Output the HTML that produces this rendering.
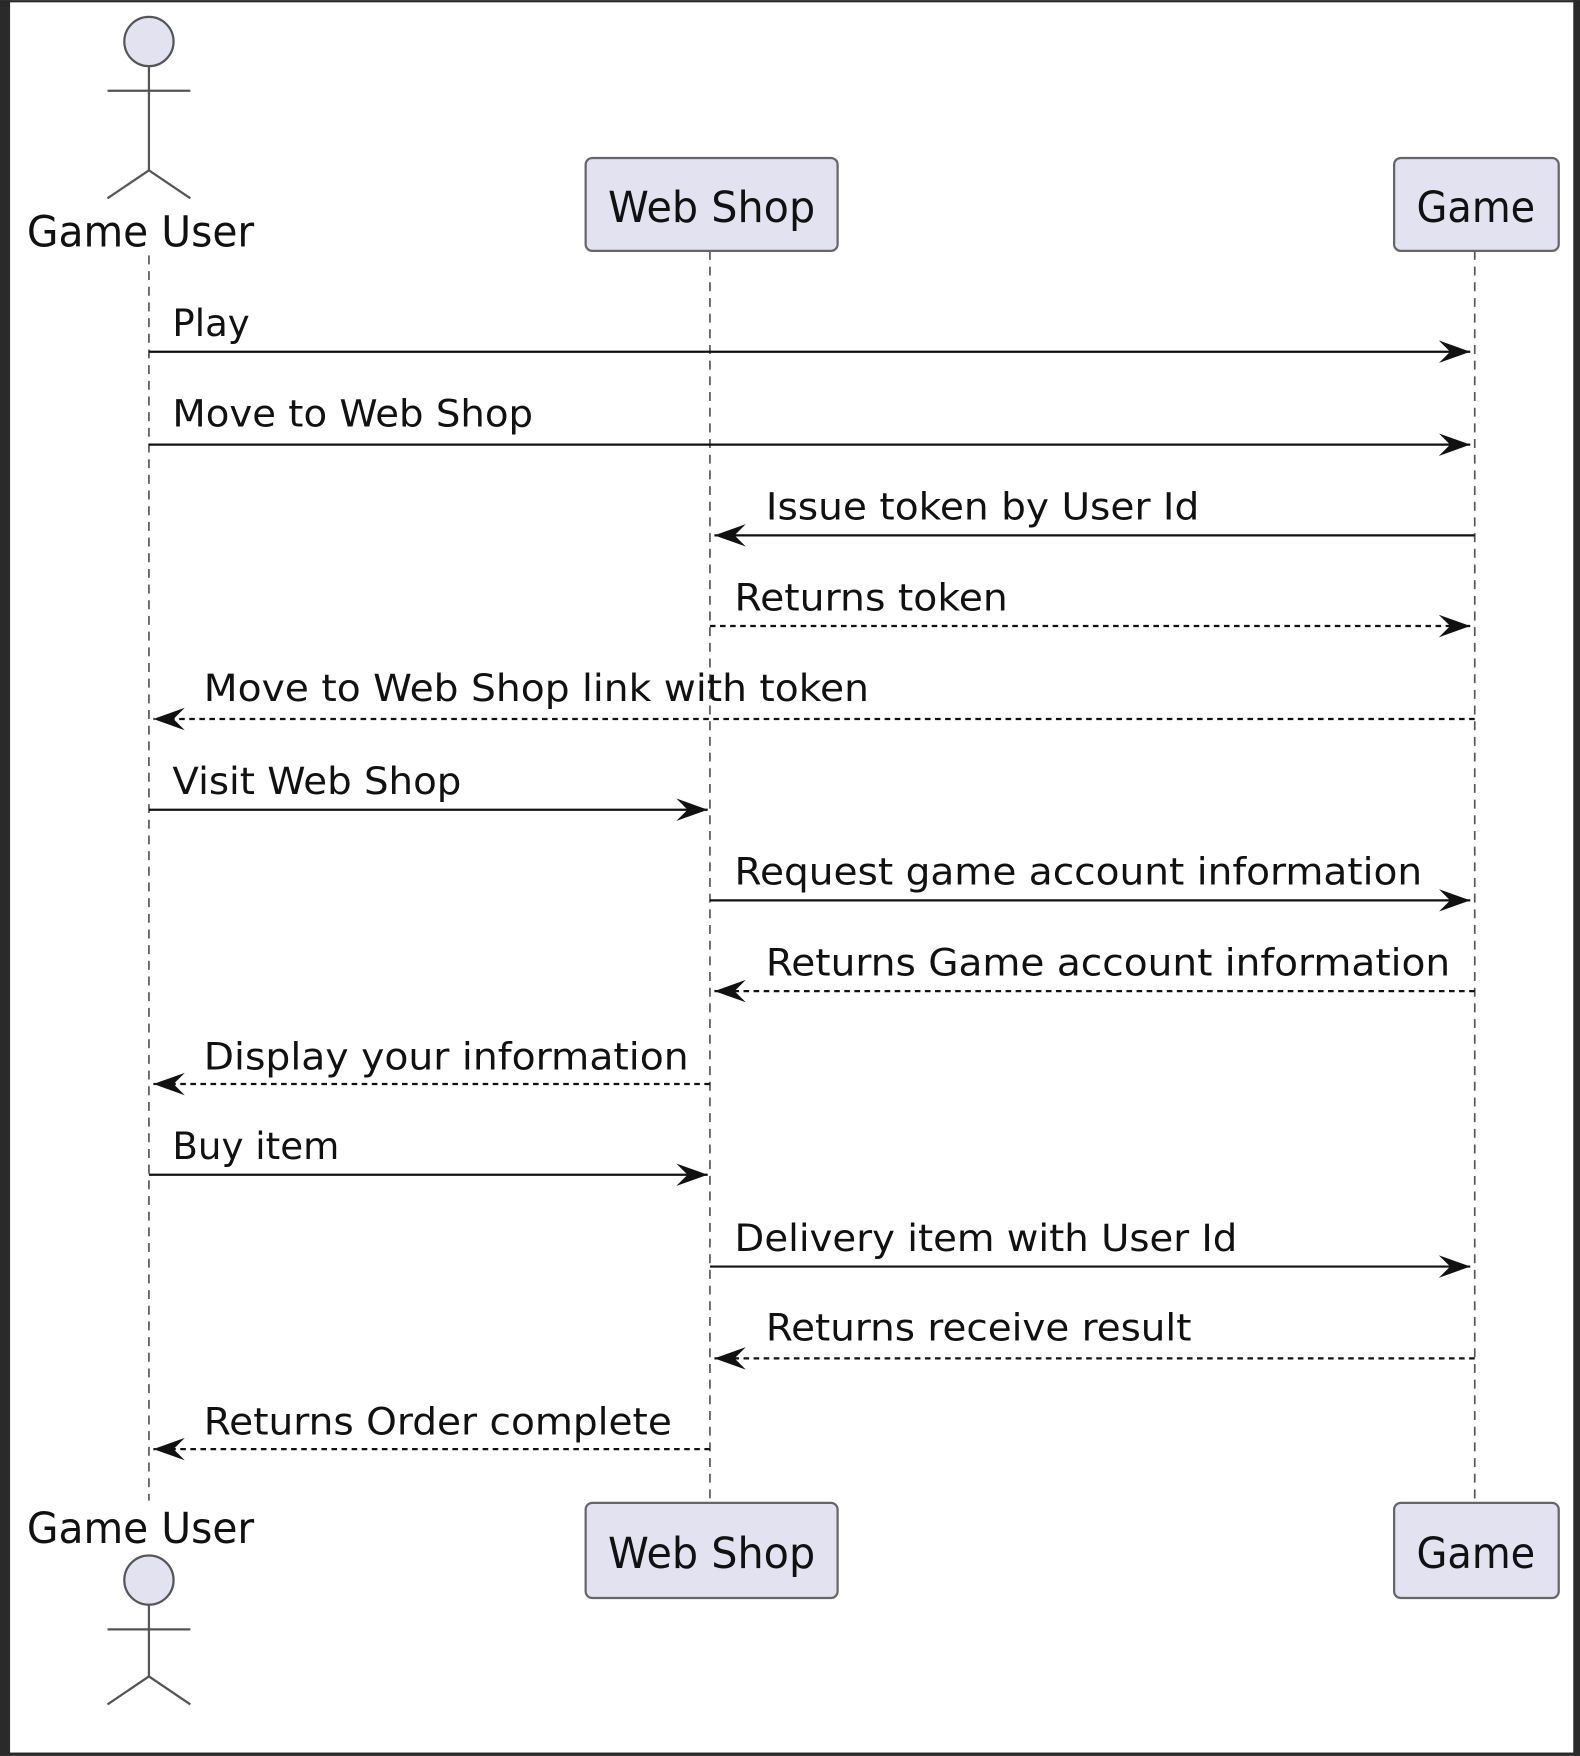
<!DOCTYPE html>
<html><head><meta charset="utf-8"><style>
html,body{margin:0;padding:0;background:#fff;}
svg{display:block;}
text{font-family:"DejaVu Sans","Liberation Sans",sans-serif;fill:#111;}
</style></head><body>
<svg width="1580" height="1756" viewBox="0 0 1411 1568" xmlns="http://www.w3.org/2000/svg">
<defs>
<marker id="a" markerWidth="30" markerHeight="22" refX="28" refY="11" orient="auto" markerUnits="userSpaceOnUse">
<polygon points="0,1 28,11 0,21 10,11" fill="#111"/>
</marker>
</defs>
<rect x="0" y="0" width="1411" height="1568" fill="#fff"/>
<rect x="0" y="0" width="9" height="1568" fill="#2a2a2a"/>
<rect x="1405" y="0" width="6" height="1568" fill="#2a2a2a"/>
<rect x="0" y="0" width="1411" height="2" fill="#2a2a2a"/>
<rect x="0" y="1565" width="1411" height="3" fill="#2a2a2a"/>

<g stroke="#555" stroke-width="1.5" stroke-dasharray="8,6" fill="none">
<line x1="133" y1="228" x2="133" y2="1340"/>
<line x1="634" y1="224" x2="634" y2="1340"/>
<line x1="1317" y1="224" x2="1317" y2="1340"/>
</g>

<!-- top actor -->
<g stroke="#555" stroke-width="2" fill="none">
<circle cx="133" cy="37" r="22" fill="#e2e2f0"/>
<line x1="133" y1="59" x2="133" y2="152"/>
<line x1="96" y1="81" x2="170" y2="81"/>
<polyline points="96,177 133,152 170,177"/>
<circle cx="133" cy="1411" r="22" fill="#e2e2f0"/>
<line x1="133" y1="1433" x2="133" y2="1497"/>
<line x1="96" y1="1455" x2="170" y2="1455"/>
<polyline points="96,1522 133,1497 170,1522"/>
</g>
<text x="24" y="220" font-size="38" textLength="203" lengthAdjust="spacingAndGlyphs">Game User</text>
<text x="24" y="1378" font-size="38" textLength="203" lengthAdjust="spacingAndGlyphs">Game User</text>

<g fill="#e2e2f0" stroke="#666" stroke-width="2">
<rect x="523" y="141" width="225" height="83" rx="6"/>
<rect x="1245" y="141" width="147" height="83" rx="6"/>
<rect x="523" y="1342" width="225" height="85" rx="6"/>
<rect x="1245" y="1342" width="147" height="85" rx="6"/>
</g>
<text x="543" y="198" font-size="38" textLength="185" lengthAdjust="spacingAndGlyphs">Web Shop</text>
<text x="1265" y="198" font-size="38" textLength="106" lengthAdjust="spacingAndGlyphs">Game</text>
<text x="543" y="1400" font-size="38" textLength="185" lengthAdjust="spacingAndGlyphs">Web Shop</text>
<text x="1265" y="1400" font-size="38" textLength="106" lengthAdjust="spacingAndGlyphs">Game</text>

<g stroke="#111" stroke-width="2" fill="none">
<line x1="133" y1="314" x2="1313" y2="314" marker-end="url(#a)"/>
<line x1="133" y1="397" x2="1313" y2="397" marker-end="url(#a)"/>
<line x1="1317" y1="478" x2="638" y2="478" marker-end="url(#a)"/>
<line x1="634" y1="559" x2="1313" y2="559" marker-end="url(#a)" stroke-dasharray="5,4"/>
<line x1="1317" y1="642" x2="137" y2="642" marker-end="url(#a)" stroke-dasharray="5,4"/>
<line x1="133" y1="723" x2="632" y2="723" marker-end="url(#a)"/>
<line x1="634" y1="804" x2="1313" y2="804" marker-end="url(#a)"/>
<line x1="1317" y1="885" x2="638" y2="885" marker-end="url(#a)" stroke-dasharray="5,4"/>
<line x1="634" y1="968" x2="137" y2="968" marker-end="url(#a)" stroke-dasharray="5,4"/>
<line x1="133" y1="1049" x2="632" y2="1049" marker-end="url(#a)"/>
<line x1="634" y1="1131" x2="1313" y2="1131" marker-end="url(#a)"/>
<line x1="1317" y1="1213" x2="638" y2="1213" marker-end="url(#a)" stroke-dasharray="5,4"/>
<line x1="634" y1="1294" x2="137" y2="1294" marker-end="url(#a)" stroke-dasharray="5,4"/>
</g>

<g font-size="33">
<text x="154" y="300" textLength="69" lengthAdjust="spacingAndGlyphs">Play</text>
<text x="154" y="381" textLength="322" lengthAdjust="spacingAndGlyphs">Move to Web Shop</text>
<text x="684" y="464" textLength="387" lengthAdjust="spacingAndGlyphs">Issue token by User Id</text>
<text x="656" y="545" textLength="244" lengthAdjust="spacingAndGlyphs">Returns token</text>
<text x="182" y="626" textLength="594" lengthAdjust="spacingAndGlyphs">Move to Web Shop link with token</text>
<text x="154" y="709" textLength="258" lengthAdjust="spacingAndGlyphs">Visit Web Shop</text>
<text x="656" y="790" textLength="614" lengthAdjust="spacingAndGlyphs">Request game account information</text>
<text x="684" y="871" textLength="611" lengthAdjust="spacingAndGlyphs">Returns Game account information</text>
<text x="182" y="955" textLength="433" lengthAdjust="spacingAndGlyphs">Display your information</text>
<text x="154" y="1035" textLength="149" lengthAdjust="spacingAndGlyphs">Buy item</text>
<text x="656" y="1117" textLength="449" lengthAdjust="spacingAndGlyphs">Delivery item with User Id</text>
<text x="684" y="1197" textLength="380" lengthAdjust="spacingAndGlyphs">Returns receive result</text>
<text x="182" y="1281" textLength="418" lengthAdjust="spacingAndGlyphs">Returns Order complete</text>
</g>
</svg>
</body></html>
